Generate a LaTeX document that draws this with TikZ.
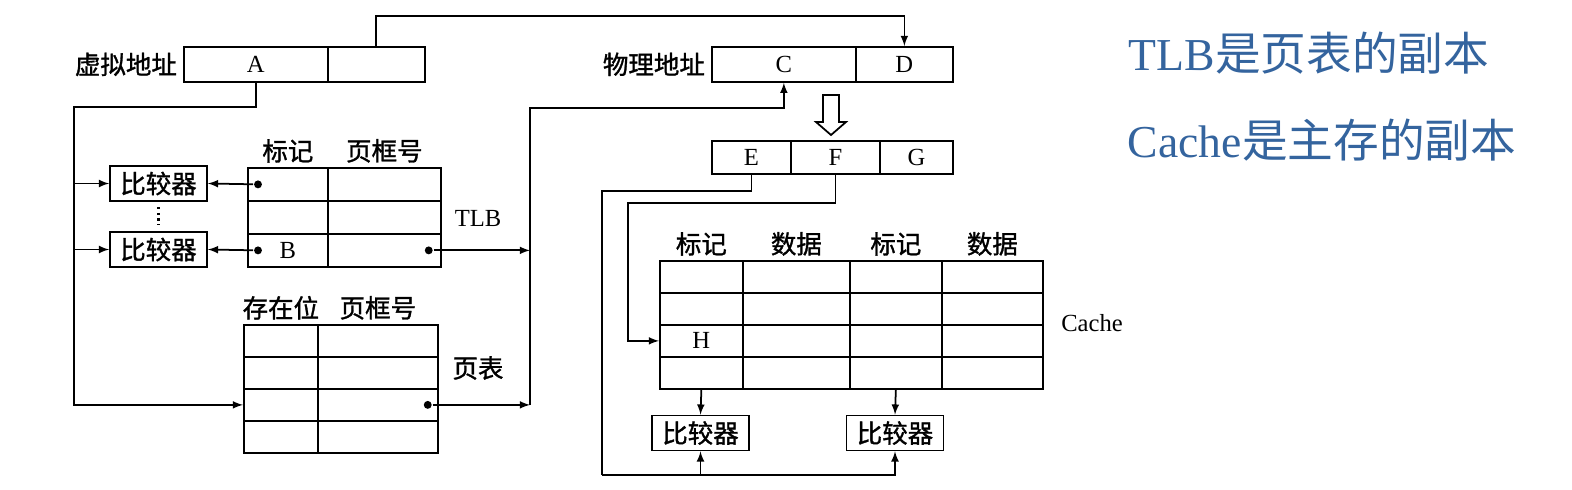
\documentclass[tikz,border=0pt]{standalone}
\usepackage{fontspec}
\setmainfont{Liberation Serif}
\newfontfamily\cjk{Noto Sans CJK SC}
\newfontfamily\cjkb{Noto Sans CJK SC}[FakeBold=1.2]
\usetikzlibrary{positioning,calc}
\definecolor{noteblue}{RGB}{52,100,158}

\begin{document}
\begin{tikzpicture}
	[x=0.02cm,y=-0.02cm,>=latex,line width=1pt,
	cell/.style={draw,rectangle,inner sep=0pt,anchor=north west,
		font=\fontsize{14}{16}\selectfont},
	cmp/.style={draw,rectangle,inner sep=0pt,minimum width=1.94cm,
		minimum height=0.7cm,font=\cjkb\fontsize{14.5}{16}\selectfont},
	lbl/.style={font=\cjkb\fontsize{14.5}{16}\selectfont,inner sep=1pt},
	ltr/.style={font=\fontsize{14}{16}\selectfont,inner sep=1pt},
	dot/.style={circle,fill,inner sep=0pt,minimum size=4.5pt},
	note/.style={anchor=west,text=noteblue,inner sep=0pt,
		font=\fontsize{26}{30}\selectfont}]
	\useasboundingbox (0,0) rectangle (1572,490);
	
	% addresses
	\node[cell,minimum width=2.88cm,minimum height=0.7cm] (va-a) at (183,46) {A};
	\node[cell,minimum width=1.94cm,minimum height=0.7cm] (va-b) at (327,46) {};
	\node[lbl,left=2pt of va-a] (va-name) {虚拟地址};
	\node[cell,minimum width=2.88cm,minimum height=0.7cm] (pa-c) at (711,46) {C};
	\node[cell,minimum width=1.94cm,minimum height=0.7cm] (pa-d) at (855,46) {D};
	\node[lbl,left=2pt of pa-c] (pa-name) {物理地址};
	\node[cell,minimum width=1.58cm,minimum height=0.66cm] (ca-e) at (711,140) {E};
	\node[cell,minimum width=1.78cm,minimum height=0.66cm] (ca-f) at (790,140) {F};
	\node[cell,minimum width=1.46cm,minimum height=0.66cm] (ca-g) at (879,140) {G};
	\draw (823,95) -- (839,95) -- (839,122) -- (846,122) -- (831,135)
		-- (816,122) -- (823,122) -- cycle;
	
	% TLB
	\foreach \r in {1,2,3}
	{
		\node[cell,minimum width=1.6cm,minimum height=0.66cm] (tlb-\r-1) at (247,{167+33*(\r-1)}) {};
		\node[cell,minimum width=2.26cm,minimum height=0.66cm] (tlb-\r-2) at (327,{167+33*(\r-1)}) {};
	}
	\node[ltr] (tlb-b) at (tlb-3-1) {B};
	\node[lbl,above=1pt of tlb-1-1] (tlb-h1) {标记};
	\node[lbl,above=1pt of tlb-1-2] (tlb-h2) {页框号};
	\node[ltr] (tlb-name) at (478,218) {TLB};
	\node[cmp] (tcmp1) at (158.5,183.5) {比较器};
	\node[cmp] (tcmp2) at (158.5,249.5) {比较器};
	
	% page table
	\foreach \r in {1,...,4}
	{
		\node[cell,minimum width=1.48cm,minimum height=0.64cm] (pt-\r-1) at (243,{324+32*(\r-1)}) {};
		\node[cell,minimum width=2.4cm,minimum height=0.64cm] (pt-\r-2) at (317,{324+32*(\r-1)}) {};
	}
	\node[lbl,above=1pt of pt-1-1] (pt-h1) {存在位};
	\node[lbl,above=1pt of pt-1-2] (pt-h2) {页框号};
	\node[lbl] (pt-name) at (478,368) {页表};
	
	% cache
	\foreach \r in {1,...,4}
	\foreach \c/\x/\w in {1/659/1.66,2/742/2.14,3/849/1.84,4/941/2.02}
	{
		\node[cell,minimum width=\w cm,minimum height=0.64cm] (cache-\r-\c) at (\x,{260+32*(\r-1)}) {};
	}
	\node[ltr] (cache-h) at (cache-3-1) {H};
	\node[lbl,above=1pt of cache-1-1] (cache-h1) {标记};
	\node[lbl,above=1pt of cache-1-2] (cache-h2) {数据};
	\node[lbl,above=1pt of cache-1-3] (cache-h3) {标记};
	\node[lbl,above=1pt of cache-1-4] (cache-h4) {数据};
	\node[ltr] (cache-name) at (1092,323) {Cache};
	\node[cmp] (ccmp1) at (700.5,433) {比较器};
	\node[cmp] (ccmp2) at (895,433) {比较器};
	
	% notes
	\node[note] (note1) at (1128,53) {TLB{\cjk 是页表的副本}};
	\node[note] (note2) at (1127,140) {Cache{\cjk 是主存的副本}};
	
	% connections
	\coordinate (jump) at (640,16);
	\coordinate (abus) at (74,107);
	\coordinate (pbus) at (530,108);
	\coordinate (eleft) at (602,191);
	\coordinate (ebot) at (602,475);
	\coordinate (fleft) at (628,203);
	\node[dot] (tdot1) at ($(tlb-1-1.west)+(11,0)$) {};
	\node[dot] (tdot2) at ($(tlb-3-1.west)+(11,0)$) {};
	\node[dot] (tdot3) at ($(tlb-3-2.east)+(-13,0)$) {};
	\node[dot] (pdot) at ($(pt-3-2.east)+(-11,0)$) {};
	
	\draw[->] (va-b.north) |- (jump) -| (pa-d.north);
	\draw[->] (va-a.south) |- (abus) |- (pt-3-1.west);
	\draw[->] (abus |- tcmp1) -- (tcmp1.west);
	\draw[->] (abus |- tcmp2) -- (tcmp2.west);
	\draw[->] (tdot1) -- (tcmp1.east);
	\draw[->] (tdot2) -- (tcmp2.east);
	\draw[dotted,line width=1.2pt,shorten <=3pt,shorten >=4pt] (tcmp1.south) -- (tcmp2.north);
	\draw[->] (tdot3) -- (tdot3 -| pbus);
	\draw[->] (pdot) -- (pdot -| pbus);
	\draw[->] (pdot -| pbus) -- (pbus) -| (pa-c.south);
	\draw (ca-e.south) |- (eleft) -- (ebot);
	\draw[->] (ebot) -| (ccmp2.south);
	\draw[->] (ebot -| ccmp1) -- (ccmp1.south);
	\draw[->] (ca-f.south) |- (fleft) |- (cache-3-1.west);
	\draw[->] (cache-4-1.south) -- (ccmp1.north);
	\draw[->] (cache-4-3.south) -- (ccmp2.north);
\end{tikzpicture}
\end{document}
